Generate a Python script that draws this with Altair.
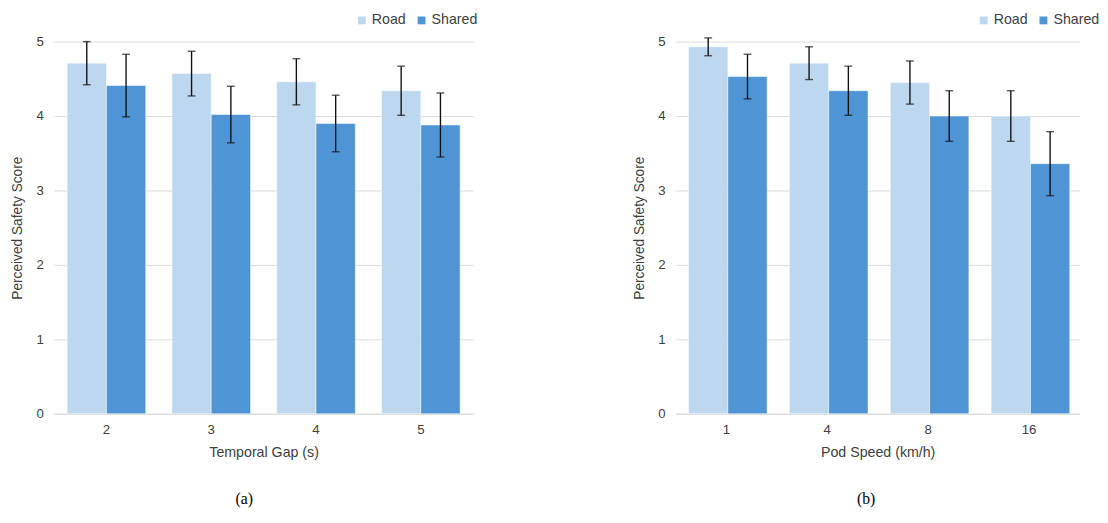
import altair as alt
import pandas as pd

# ---- data ----
series_names = ["Road", "Shared"]

gap_cats = ["2", "3", "4", "5"]
gap_road = [4.71, 4.57, 4.46, 4.34]
gap_road_err = [0.29, 0.30, 0.31, 0.33]
gap_shared = [4.41, 4.02, 3.90, 3.88]
gap_shared_err = [0.42, 0.38, 0.38, 0.43]

speed_cats = ["1", "4", "8", "16"]
speed_road = [4.93, 4.71, 4.45, 4.00]
speed_road_err = [0.12, 0.22, 0.29, 0.34]
speed_shared = [4.53, 4.34, 4.00, 3.36]
speed_shared_err = [0.30, 0.33, 0.34, 0.43]

y_ticks = [0, 1, 2, 3, 4, 5]

LIGHT = "#BDD7EE"
DARK = "#4F94D4"
GRAY_TEXT = "#404040"
GRID = "#D9D9D9"


def make_df(cats, road, road_err, shared, shared_err):
    rows = []
    for c, v, e in zip(cats, road, road_err):
        rows.append({"cat": c, "series": "Road", "value": v, "lo": v - e, "hi": v + e})
    for c, v, e in zip(cats, shared, shared_err):
        rows.append({"cat": c, "series": "Shared", "value": v, "lo": v - e, "hi": v + e})
    return pd.DataFrame(rows)


def panel(cats, road, road_err, shared, shared_err, xtitle, caption, width):
    df = make_df(cats, road, road_err, shared, shared_err)
    x = alt.X(
        "cat:N",
        sort=cats,
        scale=alt.Scale(paddingInner=0.25, paddingOuter=0.125),
        axis=alt.Axis(
            title=xtitle,
            labelAngle=0,
            ticks=False,
            domain=True,
            domainColor=GRID,
            domainWidth=1,
            labelPadding=9,
            labelFontSize=13.5,
            labelColor=GRAY_TEXT,
            titleFontSize=14.5,
            titleFontWeight="normal",
            titleColor=GRAY_TEXT,
            titlePadding=10,
            grid=False,
        ),
    )
    xo = alt.XOffset(
        "series:N",
        sort=series_names,
        scale=alt.Scale(paddingInner=0, paddingOuter=0),
    )
    yscale = alt.Scale(domain=[0, 5])
    y = alt.Y(
        "value:Q",
        scale=yscale,
        axis=alt.Axis(
            title="Perceived Safety Score",
            values=y_ticks,
            format="d",
            grid=True,
            gridColor=GRID,
            gridWidth=1,
            domain=False,
            ticks=False,
            labelPadding=11,
            labelFontSize=13.5,
            labelColor=GRAY_TEXT,
            titleFontSize=14,
            titleFontWeight="normal",
            titleColor=GRAY_TEXT,
            titlePadding=12,
        ),
    )
    color = alt.Color(
        "series:N",
        scale=alt.Scale(domain=series_names, range=[LIGHT, DARK]),
        legend=alt.Legend(
            title=None,
            orient="none",
            legendX=307,
            legendY=-29,
            direction="horizontal",
            symbolType="square",
            symbolSize=64,
            symbolStrokeWidth=0,
            labelFontSize=14.5,
            labelColor=GRAY_TEXT,
            labelOffset=3,
            columnPadding=8,
        ),
    )
    base = alt.Chart(df)
    bars = base.mark_bar(stroke="white", strokeWidth=0.5).encode(x=x, xOffset=xo, y=y, color=color)
    rules = base.mark_rule(color="#111111", strokeWidth=1.4).encode(
        x=alt.X("cat:N", sort=cats), xOffset=xo,
        y=alt.Y("lo:Q", scale=yscale), y2="hi:Q",
    )
    cap_lo = base.mark_tick(color="#111111", thickness=1.4, size=8, orient="horizontal").encode(
        x=alt.X("cat:N", sort=cats), xOffset=xo, y=alt.Y("lo:Q", scale=yscale)
    )
    cap_hi = base.mark_tick(color="#111111", thickness=1.4, size=8, orient="horizontal").encode(
        x=alt.X("cat:N", sort=cats), xOffset=xo, y=alt.Y("hi:Q", scale=yscale)
    )
    return alt.layer(bars, rules, cap_lo, cap_hi).properties(
        width=width,
        height=380,
        title=alt.TitleParams(
            caption,
            orient="bottom",
            font="Liberation Serif",
            fontSize=16,
            fontWeight="normal",
            color="black",
            offset=33,
            anchor="middle",
            frame="bounds",
        ),
    )


left = panel(gap_cats, gap_road, gap_road_err, gap_shared, gap_shared_err,
             "Temporal Gap (s)", "(a)", 428)
right = panel(speed_cats, speed_road, speed_road_err, speed_shared, speed_shared_err,
              "Pod Speed (km/h)", "(b)", 412)

chart = (
    alt.hconcat(left, right, spacing=157)
    .resolve_scale(color="independent")
    .properties(padding={"left": 2, "top": 0, "right": 0, "bottom": 0})
    .configure(font="Liberation Sans")
    .configure_view(stroke=None)
)

chart.save("out.html", embed_options={"renderer": "svg", "actions": False})
